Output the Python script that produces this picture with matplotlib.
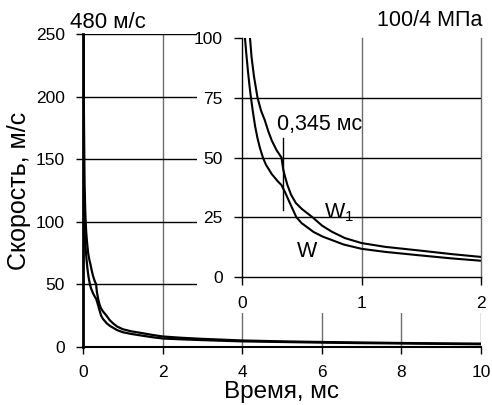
import matplotlib
matplotlib.use("Agg")
import matplotlib.pyplot as plt

plt.rcParams['font.family'] = ['Liberation Sans', 'DejaVu Sans']
plt.rcParams['mathtext.fontset'] = 'custom'
plt.rcParams['mathtext.rm'] = 'Liberation Sans'
plt.rcParams['mathtext.it'] = 'Liberation Sans'

# ---- data ----
t_w = [0, 0.005, 0.01, 0.015, 0.02, 0.025, 0.035, 0.05, 0.065, 0.075, 0.09, 0.11,
       0.13, 0.15, 0.175, 0.2, 0.25, 0.3, 0.33, 0.36, 0.4, 0.455, 0.5, 0.6, 0.68,
       0.75, 0.85, 1.0, 1.2, 1.5, 1.75, 2.0, 2.5, 3, 4, 5, 6, 7, 8, 9, 10]
v_w = [480, 330, 240, 180, 140, 100, 94, 86, 79, 75, 69.5, 63,
       58, 54, 50, 47, 43, 40, 38.5, 35.5, 31, 25, 22.5, 18.8, 16.8,
       15.5, 13.6, 11.8, 10.5, 9.0, 7.8, 6.8, 6.1, 5.5, 4.5, 4.0, 3.5, 3.1, 2.8, 2.5, 2.2]

t_w1 = [0, 0.01, 0.02, 0.03, 0.04, 0.055, 0.067, 0.08, 0.1, 0.13, 0.16, 0.19,
        0.22, 0.25, 0.29, 0.33, 0.345, 0.36, 0.38, 0.41, 0.45, 0.5, 0.59, 0.67,
        0.75, 0.86, 1.0, 1.2, 1.5, 1.75, 2.0, 2.5, 3, 4, 5, 6, 7, 8, 9, 10]
v_w1 = [480, 300, 200, 160, 130, 110, 100, 92, 84, 75, 69.5, 65.7,
        61, 57, 53, 50, 45, 42, 38.5, 34.5, 31, 28.5, 25, 21.5,
        19, 16.3, 14.2, 12.6, 11.0, 9.6, 8.4, 7.3, 6.5, 5.2, 4.5, 4.0, 3.6, 3.2, 2.9, 2.7]

main_xticks = [0, 2, 4, 6, 8, 10]
main_yticks = [0, 50, 100, 150, 200, 250]
inset_xticks = [0, 1, 2]
inset_yticks = [0, 25, 50, 75, 100]
marker_t = 0.345
marker_range = [28, 58]

W, H = 492, 405
fig = plt.figure(figsize=(W / 100, H / 100), dpi=100)

def fx(px):
    return px / W

def fy(py):
    return 1 - py / H

# ---- main axes ----
ax = fig.add_axes([fx(83), fy(347), fx(481) - fx(83), fy(34) - fy(347)])
ax.set_xlim(0, 10)
ax.set_ylim(0, 250)
ax.set_xticks(main_xticks)
ax.set_yticks(main_yticks)
ax.grid(False)
for v in main_xticks[1:]:
    ax.axvline(v, color='#6e6e6e', lw=1.0, zorder=1)
for v in main_yticks[1:]:
    ax.axhline(v, color='black', lw=1.0, zorder=1)
for s in ['top', 'right']:
    ax.spines[s].set_visible(False)
ax.spines['left'].set_linewidth(2.0)
ax.spines['bottom'].set_linewidth(1.5)
ax.tick_params(direction='out', length=5, width=1, labelsize=12.5, pad=8, colors='black')
ax.plot(t_w, v_w, color='black', lw=1.6, zorder=3)
ax.plot(t_w1, v_w1, color='black', lw=1.6, zorder=3)

fig.text(fx(282), fy(398), 'Время, мс', fontsize=17.5, ha='center', va='baseline')
fig.text(fx(19), fy(191), 'Скорость, м/с', fontsize=18, ha='center', va='center',
         rotation=90)
fig.text(fx(70), fy(22), '480 м/с', fontsize=16, ha='left', va='center')

# ---- white background for inset ----
bg = fig.add_axes([fx(197), fy(313), 1 - fx(197), fy(0) - fy(313)])
bg.set_xticks([])
bg.set_yticks([])
for s in bg.spines.values():
    s.set_visible(False)
bg.set_facecolor('white')

# ---- inset ----
ins = fig.add_axes([fx(242), fy(277), fx(481) - fx(242), fy(38) - fy(277)])
ins.set_xlim(0, 2)
ins.set_ylim(0, 100)
ins.set_xticks(inset_xticks)
ins.set_yticks(inset_yticks)
for v in inset_xticks[1:]:
    ins.axvline(v, color='#6e6e6e', lw=1.0, zorder=1, clip_on=False)
for v in inset_yticks[1:-1]:
    ins.axhline(v, color='black', lw=1.0, zorder=1)
for s in ['top', 'right']:
    ins.spines[s].set_visible(False)
ins.spines['left'].set_linewidth(1.0)
ins.spines['bottom'].set_linewidth(1.0)
ins.tick_params(direction='out', length=6, width=1, labelsize=12.5, pad=8, colors='black')
ins.plot(t_w, v_w, color='black', lw=1.5, zorder=3)
ins.plot(t_w1, v_w1, color='black', lw=1.5, zorder=3)
ins.plot([marker_t, marker_t], marker_range, color='black', lw=1.0, zorder=3)
ins.text(0.29, 64, '0,345 мс', fontsize=15.5, ha='left', va='center')
ins.text(0.69, 27, 'W$_1$', fontsize=15.5, ha='left', va='center')
ins.text(0.46, 10.5, 'W', fontsize=15.5, ha='left', va='center')

fig.text(fx(482), fy(20), '100/4 МПа', fontsize=15.5, ha='right', va='center')

fig.savefig('out.png', dpi=100, facecolor='white')
